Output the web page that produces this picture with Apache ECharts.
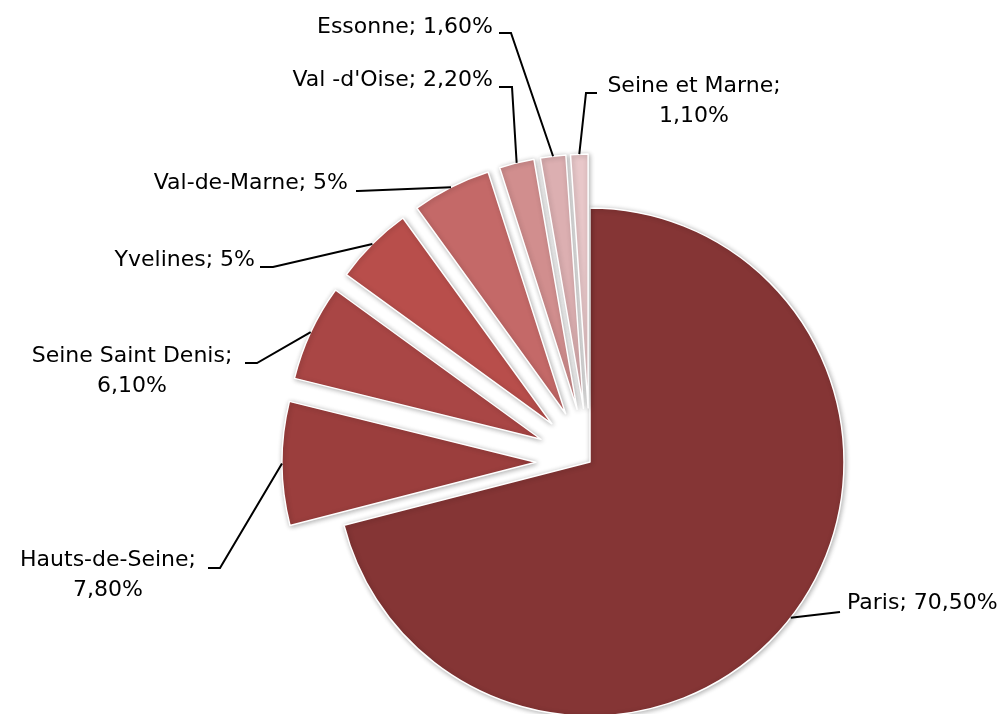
<!DOCTYPE html>
<html>
<head>
<meta charset="utf-8">
<script src="https://cdn.jsdelivr.net/npm/echarts@6/dist/echarts.min.js"></script>
<style>
  html, body { margin: 0; padding: 0; background: #ffffff; }
  #chart { width: 1007px; height: 714px; }
</style>
</head>
<body>
<div id="chart"></div>
<script>
// Répartition par département (%)
const departements = ['Paris', 'Hauts-de-Seine', 'Seine Saint Denis', 'Yvelines', 'Val-de-Marne', "Val -d'Oise", 'Essonne', 'Seine et Marne'];
const parts = [70.5, 7.8, 6.1, 5, 5, 2.2, 1.6, 1.1];
const sliceColors = ['#853535', '#9b3e3d', '#a94645', '#b84e4b', '#c46968', '#d18e8e', '#dcafb1', '#e8c7c9'];

const CENTER = [590, 462];
const RADIUS = 254;
const OFFSET = 54;

// Where each label sits, and the elbow of its leader line
const placement = {
  'Paris':             { x: 847, y: 603, align: 'left',   bend: [840, 612], end: [840, 612] },
  'Hauts-de-Seine':    { x: 108, y: 575, align: 'center', bend: [220, 568], end: [208, 568], wrap: true },
  'Seine Saint Denis': { x: 132, y: 371, align: 'center', bend: [257, 363], end: [245, 363], wrap: true },
  'Yvelines':          { x: 255, y: 260, align: 'right',  bend: [273, 267], end: [260, 267] },
  'Val-de-Marne':      { x: 348, y: 183, align: 'right',  bend: [358, 191], end: [356, 191] },
  "Val -d'Oise":       { x: 493, y: 80,  align: 'right',  bend: [512, 87],  end: [499, 87] },
  'Essonne':           { x: 493, y: 27,  align: 'right',  bend: [511, 33],  end: [499, 33] },
  'Seine et Marne':    { x: 694, y: 101, align: 'center', bend: [586, 93],  end: [597, 93], wrap: true }
};

const total = parts.reduce((a, b) => a + b, 0);

// Point on the outer arc, at the middle of slice i (detached slices pushed out)
function arcAnchor(i) {
  let before = 0;
  for (let k = 0; k < i; k++) before += parts[k];
  const theta = (before + parts[i] / 2) / total * Math.PI * 2;
  const r = RADIUS + (i > 0 ? OFFSET : 0);
  return [CENTER[0] + Math.sin(theta) * r, CENTER[1] - Math.cos(theta) * r];
}

function formatPct(v) {
  return Number.isInteger(v) ? String(v) : v.toFixed(2).replace('.', ',');
}

const chart = echarts.init(document.getElementById('chart'), null, { renderer: 'canvas' });

const sliceStyle = {
  borderColor: '#ffffff',
  borderWidth: 1.5,
  shadowBlur: 5,
  shadowColor: 'rgba(0,0,0,0.3)',
  shadowOffsetX: 1,
  shadowOffsetY: 1
};

const common = {
  type: 'pie',
  center: CENTER,
  radius: RADIUS,
  startAngle: 90,
  clockwise: true,
  avoidLabelOverlap: false,
  emphasis: { disabled: true }
};

chart.setOption({
  animation: false,
  backgroundColor: '#ffffff',
  series: [
    // slices: every département except Paris is pulled out of the pie
    Object.assign({}, common, {
      name: 'parts',
      selectedMode: 'multiple',
      selectedOffset: OFFSET,
      data: departements.map((name, i) => ({
        name: name,
        value: parts[i],
        selected: i > 0,
        itemStyle: { color: sliceColors[i] }
      })),
      itemStyle: sliceStyle,
      select: { itemStyle: sliceStyle },
      label: { show: false },
      labelLine: { show: false }
    }),
    // labels and leader lines, on a see-through copy of the same pie
    Object.assign({}, common, {
      name: 'étiquettes',
      silent: true,
      z: 3,
      data: departements.map((name, i) => ({ name: name, value: parts[i] })),
      itemStyle: { color: 'rgba(0,0,0,0)', borderWidth: 0 },
      label: {
        show: true,
        color: '#000000',
        fontFamily: 'DejaVu Sans',
        fontSize: 22,
        lineHeight: 30,
        formatter: function (p) {
          const sep = placement[p.name].wrap ? '\n' : ' ';
          return p.name + ';' + sep + formatPct(p.value) + '%';
        }
      },
      labelLine: {
        show: true,
        length: 10,
        length2: 10,
        lineStyle: { color: '#000000', width: 2, opacity: 1 }
      },
      labelLayout: function (params) {
        const i = params.dataIndex;
        const pl = placement[departements[i]];
        return {
          x: pl.x,
          y: pl.y,
          align: pl.align,
          verticalAlign: 'middle',
          labelLinePoints: [arcAnchor(i), pl.bend, pl.end]
        };
      }
    })
  ]
});
</script>
</body>
</html>
